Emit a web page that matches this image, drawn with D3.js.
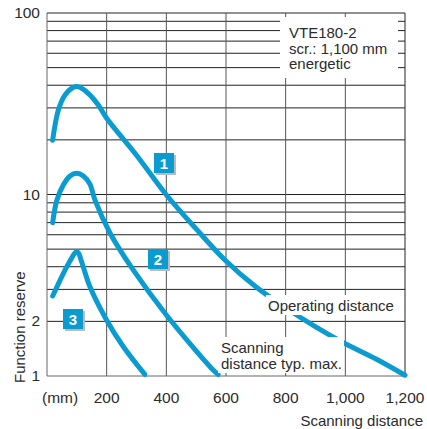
<!DOCTYPE html>
<html>
<head>
<meta charset="utf-8">
<script src="https://cdn.jsdelivr.net/npm/d3@7"></script>
<style>
  body { margin: 0; background: #fff; }
  text { font-family: "Liberation Sans", Arial, sans-serif; fill: #2b2b2b; }
</style>
</head>
<body>
<svg id="chart" width="427" height="429"></svg>
<script>
// Function reserve vs scanning distance, three curves

const xTicks = [200, 400, 600, 800, 1000, 1200];
const xTickLabels = ["200", "400", "600", "800", "1,000", "1,200"];
const yGrid = [2, 3, 4, 5, 6, 7, 8, 9, 10, 20, 30, 40, 50, 60, 70, 80, 90, 100];
const yTicks = [1, 2, 10, 100];
const yTickLabels = ["1", "2", "10", "100"];

const series1X = [19, 38, 60, 83, 100, 122, 144, 172, 200, 302, 399, 500, 600, 701, 801, 902, 1002, 1103, 1200];
const series1Y = [19.9, 29.2, 35.3, 38.5, 39.3, 38, 35.3, 31.1, 26.3, 16.3, 10, 6.46, 4.3, 3.09, 2.37, 1.86, 1.5, 1.24, 1.01];
const series2X = [19, 33, 55, 77, 100, 122, 144, 161, 211, 289, 400, 557, 574];
const series2Y = [7.0, 9.3, 11.3, 12.65, 13.1, 12.65, 11.4, 9.3, 6.14, 3.84, 2.17, 1.08, 1.02];
const series3X = [19, 55, 77, 97, 104, 116, 144, 200, 256, 328];
const series3Y = [2.76, 3.68, 4.3, 4.82, 4.8, 4.26, 3.1, 2.03, 1.45, 1.02];

const infoLines = ["VTE180-2", "scr.: 1,100 mm", "energetic"];

const blue = "#0a9bd0";
const svg = d3.select("#chart");

const x = d3.scaleLinear().domain([0, 1200]).range([47, 405]);
const y = d3.scaleLog().domain([1, 100]).range([376, 13]);

// grid
svg.append("g")
  .selectAll("line")
  .data(yGrid)
  .join("line")
  .attr("x1", x(0)).attr("x2", x(1200))
  .attr("y1", d => y(d)).attr("y2", d => y(d))
  .attr("stroke", "#222").attr("stroke-width", 1);

svg.append("g")
  .selectAll("line")
  .data(xTicks)
  .join("line")
  .attr("x1", d => x(d)).attr("x2", d => x(d))
  .attr("y1", y(1)).attr("y2", y(100))
  .attr("stroke", d => d === 1200 ? "#222" : "#555").attr("stroke-width", 1);

// left and bottom frame
svg.append("line")
  .attr("x1", x(0)).attr("x2", x(0)).attr("y1", y(1)).attr("y2", y(100))
  .attr("stroke", "#666");
svg.append("line")
  .attr("x1", x(0)).attr("x2", x(1200)).attr("y1", y(1)).attr("y2", y(1))
  .attr("stroke", "#666");

// white label backgrounds that cut the grid
svg.append("rect").attr("x", 280).attr("y", 17).attr("width", 118).attr("height", 61).attr("fill", "#fff");

const line = d3.line()
  .x(d => x(d[0]))
  .y(d => y(d[1]))
  .curve(d3.curveCatmullRom.alpha(0.5));

[[series1X, series1Y], [series2X, series2Y], [series3X, series3Y]].forEach(s => {
  svg.append("path")
    .datum(s[0].map((v, i) => [v, s[1][i]]))
    .attr("d", line)
    .attr("fill", "none")
    .attr("stroke", blue)
    .attr("stroke-width", 5)
    .attr("stroke-linecap", "round")
    .attr("stroke-linejoin", "round");
});

svg.append("rect").attr("x", 266).attr("y", 295).attr("width", 134).attr("height", 20).attr("fill", "#fff");
svg.append("rect").attr("x", 218).attr("y", 337).attr("width", 126).attr("height", 36).attr("fill", "#fff");

// axis labels
svg.append("g")
  .selectAll("text")
  .data(xTicks)
  .join("text")
  .attr("x", d => x(d))
  .attr("y", 403)
  .attr("text-anchor", "middle")
  .attr("font-size", 15.5)
  .text((d, i) => xTickLabels[i]);

svg.append("text").attr("x", 42).attr("y", 403).attr("font-size", 15.5).text("(mm)");

svg.append("g")
  .selectAll("text")
  .data(yTicks)
  .join("text")
  .attr("x", 40)
  .attr("y", d => y(d) + 5)
  .attr("text-anchor", "end")
  .attr("font-size", 15.5)
  .text((d, i) => yTickLabels[i]);

svg.append("text")
  .attr("transform", "translate(25,383) rotate(-90)")
  .attr("font-size", 15)
  .text("Function reserve");

svg.append("text")
  .attr("x", 423).attr("y", 426)
  .attr("text-anchor", "end")
  .attr("font-size", 15)
  .text("Scanning distance");

// info text
svg.append("g")
  .selectAll("text")
  .data(infoLines)
  .join("text")
  .attr("x", 289)
  .attr("y", (d, i) => 38 + i * 15.7)
  .attr("font-size", 15)
  .text(d => d);

svg.append("text").attr("x", 268).attr("y", 311).attr("font-size", 15).text("Operating distance");
svg.append("text").attr("x", 221).attr("y", 352.5).attr("font-size", 15).text("Scanning");
svg.append("text").attr("x", 221).attr("y", 368.5).attr("font-size", 15).text("distance typ. max.");

// numbered markers
const markers = [{n: "1", px: 154, py: 153}, {n: "2", px: 148, py: 249}, {n: "3", px: 63, py: 309}];
const m = svg.append("g").selectAll("g").data(markers).join("g")
  .attr("transform", d => `translate(${d.px},${d.py})`);
m.append("rect").attr("x", 2).attr("y", 2).attr("width", 20).attr("height", 20).attr("fill", "#bbb");
m.append("rect").attr("width", 20).attr("height", 20).attr("fill", blue);
m.append("text")
  .attr("x", 10).attr("y", 15.5)
  .attr("text-anchor", "middle")
  .attr("font-size", 15)
  .attr("font-weight", "bold")
  .style("fill", "#fff")
  .text(d => d.n);
</script>
</body>
</html>
